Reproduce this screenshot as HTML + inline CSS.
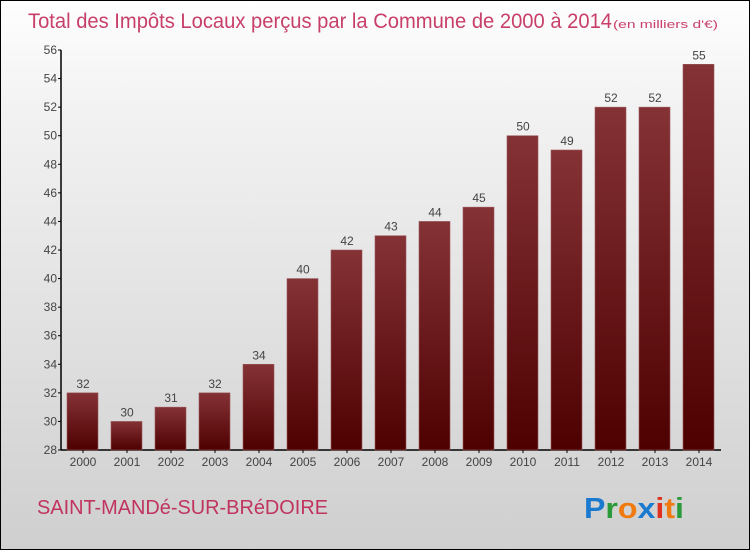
<!DOCTYPE html>
<html><head><meta charset="utf-8"><style>
html,body{margin:0;padding:0}
body{width:750px;height:550px;overflow:hidden;font-family:"Liberation Sans",sans-serif}
#wrap{position:relative;width:748px;height:548px;border:1px solid #000;background:linear-gradient(#fefefe,#f2f2f2 20%,#cfcfcf)}
</style></head><body>
<div id="wrap">
<svg id="chart" width="748" height="548" style="position:absolute;left:0;top:0">
<defs><linearGradient id="bg" x1="0" y1="0" x2="0" y2="1"><stop offset="0" stop-color="#853236"/><stop offset="1" stop-color="#4e0000"/></linearGradient></defs>
<text x="27" y="27" font-size="21" fill="#c8406a" textLength="584" lengthAdjust="spacingAndGlyphs">Total des Impôts Locaux perçus par la Commune de 2000 à 2014</text>
<text x="612" y="27" font-size="11" fill="#c8406a" textLength="105" lengthAdjust="spacingAndGlyphs">(en milliers d'€)</text>
<g id="yax"></g><g id="bars"></g>
<text x="36" y="513" font-size="20" fill="#c0345e" textLength="291" lengthAdjust="spacingAndGlyphs">SAINT-MANDé-SUR-BRéDOIRE</text>
<g font-size="29" font-family="Liberation Sans, sans-serif" font-weight="bold">
<text x="583" y="517" textLength="100" lengthAdjust="spacingAndGlyphs"><tspan fill="#1a7ad0">P</tspan><tspan fill="#2a9a3a">r</tspan><tspan fill="#f07a10">o</tspan><tspan fill="#1a7ad0">x</tspan><tspan fill="#e03020">i</tspan><tspan fill="#f07a10">t</tspan><tspan fill="#2a9a3a">i</tspan></text></g>
</svg></div>
<script>
const categories=["2000","2001","2002","2003","2004","2005","2006","2007","2008","2009","2010","2011","2012","2013","2014"];
const values=[32,30,31,32,34,40,42,43,44,45,50,49,52,52,55];
const yTicks=[28,30,32,34,36,38,40,42,44,46,48,50,52,54,56];
const NS="http://www.w3.org/2000/svg";
const x0=60,step=44,yMin=28,yMax=56,yTop=49,yBot=449;
const y=v=>yBot-(v-yMin)/(yMax-yMin)*(yBot-yTop);
const xb=i=>x0+i*step;
function mk(t,a,p){const e=document.createElementNS(NS,t);for(const k in a)e.setAttribute(k,a[k]);p.appendChild(e);return e;}
const ya=document.getElementById('yax'),bg=document.getElementById('bars');
let l=mk('line',{x1:x0,y1:yTop,x2:x0,y2:yBot,stroke:'#000','stroke-width':1.5},ya);


l=mk('line',{x1:x0,y1:yBot,x2:x0+categories.length*step,y2:yBot,stroke:'#000','stroke-width':1.5},ya);


yTicks.forEach(t=>{
 const tk=mk('line',{x1:x0-3,y1:y(t),x2:x0,y2:y(t),stroke:'#000'},ya);
 
 
 const tx=mk('text',{x:x0-4,y:y(t)+4,'font-size':12,fill:'#444','text-anchor':'end'},ya);
 tx.textContent=t;
 
 
});
categories.forEach((c,i)=>{
 const v=values[i];
 const r=mk('rect',{x:xb(i)+6,y:y(v),width:31,height:yBot-y(v),fill:'url(#bg)',stroke:'#9a5a5c','stroke-width':0.6},bg);
 
 
 const t=mk('text',{x:xb(i)+22,y:y(v)-5,'font-size':12,fill:'#444','text-anchor':'middle'},bg);
 t.textContent=v;
 
 
 const tk=mk('line',{x1:xb(i)+22,y1:yBot,x2:xb(i)+22,y2:yBot+3,stroke:'#000'},bg);
 
 
 const xl=mk('text',{x:xb(i)+22,y:yBot+16,'font-size':12,fill:'#444','text-anchor':'middle'},bg);
 xl.textContent=c;
 
 
});
</script>
</body></html>
